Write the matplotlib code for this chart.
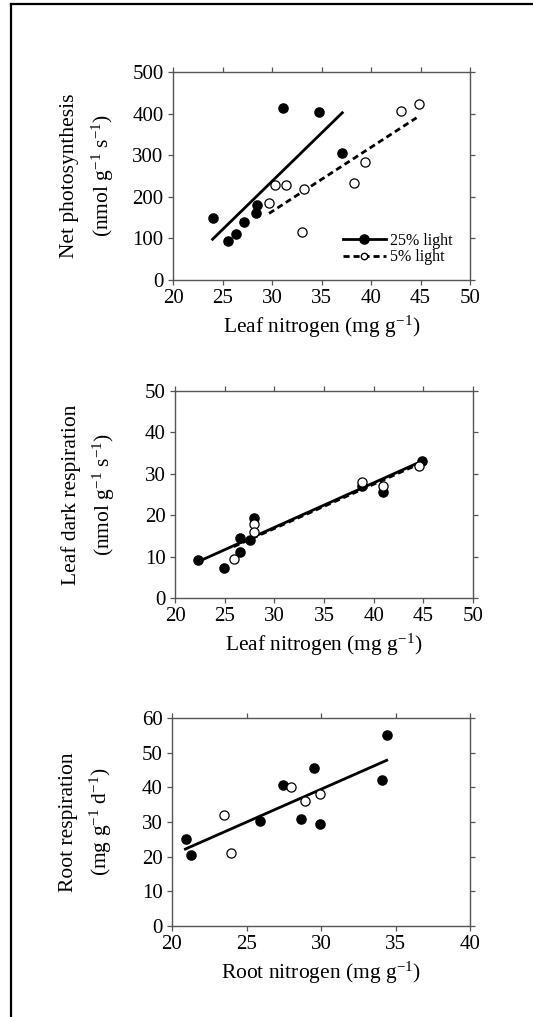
import numpy as np
import matplotlib.pyplot as plt
from matplotlib.lines import Line2D

plt.rcParams['font.family'] = ['Liberation Serif', 'DejaVu Serif']
plt.rcParams['mathtext.fontset'] = 'custom'
plt.rcParams['mathtext.rm'] = 'Liberation Serif'
plt.rcParams['mathtext.it'] = 'Liberation Serif'

# Panel 1: net photosynthesis vs leaf N
ps_hi_x = [24.0, 25.6, 26.4, 27.2, 28.4, 28.5, 31.1, 34.7, 37.1]
ps_hi_y = [148, 94, 111, 140, 162, 180, 414, 405, 306]
ps_lo_x = [29.7, 30.3, 31.4, 33.2, 33.05, 38.3, 39.4, 43.0, 44.8]
ps_lo_y = [184, 228, 229, 218, 116, 233, 284, 406, 422]
ps_hi_fit_x = [24.0, 37.1]
ps_hi_fit_y = [98, 402]
ps_lo_fit_x = [29.7, 44.6]
ps_lo_fit_y = [160, 390]

# Panel 2: leaf dark respiration vs leaf N
rd_hi_x = [22.35, 24.96, 26.5, 26.5, 27.5, 28.0, 38.8, 40.9, 44.9]
rd_hi_y = [9.2, 7.2, 11.1, 14.4, 14.0, 19.3, 27.0, 25.5, 33.1]
rd_lo_x = [25.9, 28.0, 28.0, 38.8, 40.95, 44.6]
rd_lo_y = [9.5, 17.9, 15.9, 28.1, 27.1, 31.9]
rd_hi_fit_x = [22.35, 44.9]
rd_hi_fit_y = [8.8, 33.1]
rd_lo_fit_x = [25.9, 44.6]
rd_lo_fit_y = [12.4, 32.4]

# Panel 3: root respiration vs root N
rr_hi_x = [20.96, 21.27, 25.9, 27.44, 28.63, 29.52, 29.92, 34.08, 34.41]
rr_hi_y = [25.0, 20.6, 30.4, 40.6, 31.0, 45.6, 29.5, 42.2, 55.1]
rr_lo_x = [23.46, 23.96, 27.98, 28.92, 29.94]
rr_lo_y = [32.0, 21.0, 40.1, 36.0, 38.0]
rr_fit_x = [20.9, 34.41]
rr_fit_y = [22.2, 47.8]

fig = plt.figure(figsize=(5.33, 10.17), dpi=100)

# frame lines at top and left of the page
fig.add_artist(Line2D([11/533, 11/533], [0, 1-4/1017], transform=fig.transFigure, color='black', lw=1.6))
fig.add_artist(Line2D([11/533, 1], [1-4/1017, 1-4/1017], transform=fig.transFigure, color='black', lw=1.6))

ax1 = fig.add_axes([173/533, 1-280/1017, 297/533, 208/1017])
ax2 = fig.add_axes([175/533, 1-598/1017, 298/533, 207/1017])
ax3 = fig.add_axes([172/533, 1-926/1017, 298/533, 208/1017])

ms = 6.6
fs = 15
lfs = 15.5
dash = (0, (2.2, 1.4))

def style(ax):
    for s in ax.spines.values():
        s.set_color('#555555')
        s.set_linewidth(1.0)
    ax.tick_params(direction='out', length=3.8, width=0.9, color='#555555',
                   labelsize=fs, top=True, right=True, pad=3)
    ax.yaxis.set_label_coords(-0.193, 0.5)
    ax.xaxis.labelpad = 4

# panel 1
ax1.plot(ps_hi_fit_x, ps_hi_fit_y, color='black', lw=2.0)
ax1.plot(ps_lo_fit_x, ps_lo_fit_y, color='black', lw=2.0, ls=dash)
ax1.plot(ps_hi_x, ps_hi_y, 'o', color='black', ms=ms)
ax1.plot(ps_lo_x, ps_lo_y, 'o', mfc='white', mec='black', mew=0.9, ms=ms)
ax1.set_xlim(20, 50)
ax1.set_ylim(0, 500)
ax1.set_xticks(np.arange(20, 51, 5))
ax1.set_yticks(np.arange(0, 501, 100))
ax1.set_xlabel('Leaf nitrogen (mg g$^{-1}$)', fontsize=lfs)
ax1.set_ylabel('Net photosynthesis\n(nmol g$^{-1}$ s$^{-1}$)', fontsize=lfs, linespacing=1.55)
h1 = Line2D([], [], color='black', lw=2.0, marker='o', ms=ms)
h2 = Line2D([], [], color='black', lw=2.0, ls=dash, marker='o', mfc='white', mec='black', ms=ms*0.7)
ax1.legend([h1, h2], ['25% light', '5% light'], loc='lower right', frameon=False,
           fontsize=11.5, handlelength=2.7, handletextpad=0.25, labelspacing=0.05,
           borderaxespad=0, borderpad=0, bbox_to_anchor=(0.94, 0.07))
style(ax1)

# panel 2
ax2.plot(rd_hi_fit_x, rd_hi_fit_y, color='black', lw=2.0)
ax2.plot(rd_lo_fit_x, rd_lo_fit_y, color='black', lw=2.0, ls=dash)
ax2.plot(rd_hi_x, rd_hi_y, 'o', color='black', ms=ms)
ax2.plot(rd_lo_x, rd_lo_y, 'o', mfc='white', mec='black', mew=0.9, ms=ms)
ax2.set_xlim(20, 50)
ax2.set_ylim(0, 50)
ax2.set_xticks(np.arange(20, 51, 5))
ax2.set_yticks(np.arange(0, 51, 10))
ax2.set_xlabel('Leaf nitrogen (mg g$^{-1}$)', fontsize=lfs)
ax2.set_ylabel('Leaf dark respiration\n(nmol g$^{-1}$ s$^{-1}$)', fontsize=lfs, linespacing=1.55)
style(ax2)

# panel 3
ax3.plot(rr_fit_x, rr_fit_y, color='black', lw=2.0)
ax3.plot(rr_hi_x, rr_hi_y, 'o', color='black', ms=ms)
ax3.plot(rr_lo_x, rr_lo_y, 'o', mfc='white', mec='black', mew=0.9, ms=ms)
ax3.set_xlim(20, 40)
ax3.set_ylim(0, 60)
ax3.set_xticks(np.arange(20, 41, 5))
ax3.set_yticks(np.arange(0, 61, 10))
ax3.set_xlabel('Root nitrogen (mg g$^{-1}$)', fontsize=lfs)
ax3.set_ylabel('Root respiration\n(mg g$^{-1}$ d$^{-1}$)', fontsize=lfs, linespacing=1.55)
style(ax3)

fig.savefig('out.png', dpi=100)
print('Plot done')
